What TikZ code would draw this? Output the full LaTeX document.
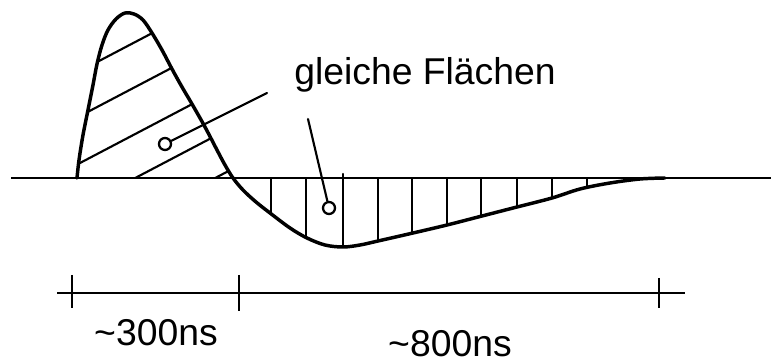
\documentclass[tikz,border=0pt]{standalone}
\usepackage{fontspec}
\setmainfont{Liberation Sans}
\begin{document}
\begin{tikzpicture}[x=0.75pt,y=-0.75pt,
  curve/.style={line width=2.6pt,line cap=round,line join=round},
  hatch/.style={line width=1.6pt,line cap=round},
  axis/.style={line width=1.6pt},
  tick/.style={line width=1.6pt},
  marker/.style={circle,draw,line width=1.7pt,minimum size=9pt,inner sep=0pt},
  lbl/.style={anchor=base,inner sep=0pt,font=\fontsize{28}{30}\selectfont}]
\useasboundingbox (0,0) rectangle (771,363);

% hatching clipped to the pulse lobes
\begin{scope}
\clip plot[smooth,tension=0.55] coordinates {
 (77,178) (79,160) (83,135) (88,110) (93,85) (97,64) (102,45) (108,30) (116,19)
 (125,13) (134,14) (143,20) (152,33) (162,50) (172,69) (182,87) (192,104)
 (205,127) (217,150) (225,165) (233,178) (243,190) (256,202) (270,213)
 (290,228) (307,238) (325,245) (343,247) (360,245) (378,241) (413,233)
 (447,225) (482,216) (517,207) (552,198) (580,189) (610,183) (640,179)
 (665,178)} -- cycle;
 \foreach \b in {113,158,205,249,291}
   \draw[hatch] (60,{\b-0.525*60}) -- (240,{\b-0.525*240});
 \foreach \xx in {271,306,343,378,412,447,481,517,552,587}
   \draw[hatch] (\xx,178) -- (\xx,262);
\end{scope}
\coordinate (h0) at (343,174);
\coordinate (h1) at (343,180);
\draw[hatch] (h0) -- (h1);

% baseline
\coordinate (b0) at (11,178);
\coordinate (b1) at (771,178);
\draw[axis] (b0) -- (b1);

% pulse curve
\draw[curve] plot[smooth,tension=0.55] coordinates {
 (77,178) (79,160) (83,135) (88,110) (93,85) (97,64) (102,45) (108,30) (116,19)
 (125,13) (134,14) (143,20) (152,33) (162,50) (172,69) (182,87) (192,104)
 (205,127) (217,150) (225,165) (233,178) (243,190) (256,202) (270,213)
 (290,228) (307,238) (325,245) (343,247) (360,245) (378,241) (413,233)
 (447,225) (482,216) (517,207) (552,198) (580,189) (610,183) (640,179)
 (665,178)};

% label and pointers
\node[lbl] (lab) at (425,85) {gleiche Flächen};
\node[marker] (c1) at (165,144) {};
\node[marker] (c2) at (329,208) {};
\coordinate (p1) at (267,93);
\coordinate (p2) at (308,119);
\draw[hatch] (c1) -- (p1);
\draw[hatch] (c2) -- (p2);

% time axis
\coordinate (a0) at (57,293);
\coordinate (a1) at (685,293);
\draw[axis] (a0) -- (a1);
\coordinate (t1a) at (72,275); \coordinate (t1b) at (72,308);
\coordinate (t2a) at (239,275); \coordinate (t2b) at (239,311);
\coordinate (t3a) at (659,278); \coordinate (t3b) at (659,308);
\draw[tick] (t1a) -- (t1b);
\draw[tick] (t2a) -- (t2b);
\draw[tick] (t3a) -- (t3b);

\node[lbl] (l300) at (156,345) {\textasciitilde300ns};
\node[lbl] (l800) at (450,356) {\textasciitilde800ns};
\end{tikzpicture}
\end{document}
